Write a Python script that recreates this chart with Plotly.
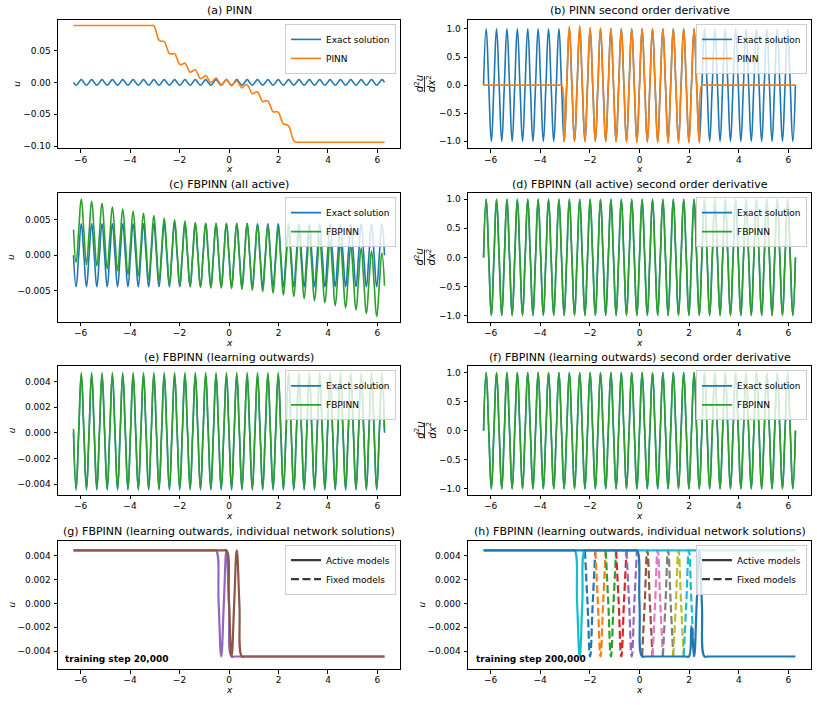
import numpy as np
import plotly.graph_objects as go

# ---------------- data ----------------
X_MIN, X_MAX = -6.2832, 6.2832          # domain [-2pi, 2pi]
N_POINTS = 121                           # quarter-period sampling (30 periods)
x_grid = np.linspace(X_MIN, X_MAX, N_POINTS)

A = 0.00444                              # amplitude of the exact solution u

exact_u = [0.0, -A, 0.0, A] * 30 + [0.0]
exact_d2u = [0.0, 1.0, 0.0, -1.0] * 30 + [0.0]

pinn_u = [0.0895] * 32 + [
    0.078, 0.0666, 0.065, 0.0644, 0.055, 0.0456, 0.045, 0.0454, 0.037, 0.0284,
    0.0286, 0.0304, 0.0233, 0.0163, 0.018, 0.0199, 0.013, 0.006, 0.0078, 0.011,
    0.0054, -0.0002, 0.003, 0.0068, 0.0018, -0.0033, 0.0005, 0.0045, -0.0003, -0.005,
    -0.001, 0.0024, -0.003, -0.0084, -0.005, -0.0034, -0.0105, -0.0177, -0.016, -0.0149,
    -0.0225, -0.0302, -0.029, -0.0289, -0.0375, -0.0462, -0.046, -0.0466, -0.056, -0.0654,
    -0.066, -0.0686, -0.080, -0.0915] + [-0.094] * 35

pinn_d2u = [0.0] * 31 + [
    -1.0, 0.0, 1.05, 0.0, -1.0, 0.0, 1.06, 0.0, -1.0, 0.0, 1.03, 0.0,
    -1.0, 0.0, 1.02, 0.0, -1.01, 0.0, 1.01, 0.0, -1.01, 0.0, 1.0, 0.0,
    -1.02, 0.0, 1.0, 0.0, -1.03, 0.0, 1.0, 0.0, -1.02, 0.0, 1.0, 0.0,
    -1.03, 0.0, 1.0, 0.0, -1.04, 0.0, 1.0, 0.0, -1.03, 0.0, 1.0, 0.0,
    -1.03, 0.0, 1.0, 0.0, -1.03] + [0.0] * 37

fbpinn_all_u = [
    0.0036,
    -0.0010, 0.0035, 0.0079, 0.0033,
    -0.0013, 0.0032, 0.0076, 0.0030,
    -0.0015, 0.0029, 0.0073, 0.0027,
    -0.0019, 0.0025, 0.0068, 0.0023,
    -0.0022, 0.0022, 0.0065, 0.0019,
    -0.0027, 0.0018, 0.0062, 0.0017,
    -0.0029, 0.0015, 0.0059, 0.0013,
    -0.0034, 0.0011, 0.0056, 0.0010,
    -0.0036, 0.0008, 0.0052, 0.0006,
    -0.0040, 0.0005, 0.0050, 0.0004,
    -0.0042, 0.0003, 0.0048, 0.0002,
    -0.0044, 0.0001, 0.0046, 0.0000,
    -0.0045, 0.0000, 0.0045, -0.0001,
    -0.0046, -0.0001, 0.0045, -0.0001,
    -0.0046, -0.0001, 0.0045, -0.0001,
    -0.0047, -0.0001, 0.0045, -0.0002,
    -0.0048, -0.0002, 0.0045, -0.0002,
    -0.0049, -0.0003, 0.0043, -0.0004,
    -0.0051, -0.0005, 0.0041, -0.0006,
    -0.0053, -0.0008, 0.0038, -0.0009,
    -0.0056, -0.0011, 0.0035, -0.0012,
    -0.0058, -0.0013, 0.0032, -0.0015,
    -0.0061, -0.0017, 0.0028, -0.0018,
    -0.0064, -0.0020, 0.0024, -0.0022,
    -0.0067, -0.0024, 0.0020, -0.0026,
    -0.0071, -0.0027, 0.0017, -0.0029,
    -0.0074, -0.0031, 0.0013, -0.0032,
    -0.0077, -0.0034, 0.0010, -0.0036,
    -0.0082, -0.0038, 0.0006, -0.0040,
    -0.0086, -0.0042, 0.0003, -0.0043]
fbpinn_all_d2u = [0.0, 1.0, 0.0, -1.0] * 30 + [0.0]

fbpinn_out_u = [0.0003] + [-0.0043, 0.0001, 0.0047, 0.0001] * 29 + [-0.0043, 0.0001, 0.0047, 0.0003]
fbpinn_out_d2u = [0.0, 1.0, 0.0, -1.0] * 30 + [0.0]

# (g) training step 20,000 : active models
g_purple_active = [A] * 56 + [0.0, -A, 0.0, A, 0.0, -A] + [-A] * 59
g_brown_active = [A] * 60 + [0.0, -A, 0.0, A, 0.0, -A] + [-A] * 55

# (h) training step 200,000
V = [A, 0.0, -A, 0.0, A]
LAM = [-A, 0.0, A, 0.0, -A]
h_blue_fixed = [None] * 39 + V + [None] * 77
h_orange_fixed = [None] * 43 + V + [None] * 73
h_green_fixed = [None] * 47 + V + [None] * 69
h_red_fixed = [None] * 51 + V + [None] * 65
h_purple_fixed = [None] * 55 + V + [None] * 61
h_brown_fixed = [None] * 61 + LAM + [None] * 55
h_pink_fixed = [None] * 65 + LAM + [None] * 51
h_gray_fixed = [None] * 69 + LAM + [None] * 47
h_olive_fixed = [None] * 73 + LAM + [None] * 43
h_cyan_fixed = [None] * 77 + LAM + [None] * 39
h_cyan_active = [A] * 36 + [0.0, -A, 0.0] + [A] * 82
h_blue_active = [A] * 60 + [0.0] + [-A] * 19 + [-0.0019, -A, 0.0, A, 0.0] + [-A] * 36

titles = ["(a) PINN", "(b) PINN second order derivative",
          "(c) FBPINN (all active)", "(d) FBPINN (all active) second order derivative",
          "(e) FBPINN (learning outwards)", "(f) FBPINN (learning outwards) second order derivative",
          "(g) FBPINN (learning outwards, individual network solutions)",
          "(h) FBPINN (learning outwards, individual network solutions)"]
x_ticks = [-6, -4, -2, 0, 2, 4, 6]

# ---------------- styling / layout ----------------
BLUE, ORANGE, GREEN, RED = "#1f77b4", "#ff7f0e", "#2ca02c", "#d62728"
PURPLE, BROWN, PINK, GRAY = "#9467bd", "#8c564b", "#e377c2", "#7f7f7f"
OLIVE, CYAN = "#bcbd22", "#17becf"
FONT = "DejaVu Sans"
FS = 9           # tick / legend / label font size
FS_TITLE = 11
W, H = 817, 705
col_px = [(58, 400), (468, 811)]
row_px = [(20, 149), (194, 323), (368, 497), (543, 672)]
LW = 1.6
LW2 = 2.2
DASH = "8px,3.5px"

fig = go.Figure()


def names(p):
    s = "" if p == 1 else str(p)
    return "x" + s, "y" + s, "legend" + s


def add_line(p, y, name, color, width=LW, dash="solid", showlegend=True):
    xa, ya, lg = names(p)
    fig.add_trace(go.Scatter(
        x=x_grid, y=y, mode="lines", name=name,
        line=dict(color=color, width=width, dash=dash, shape="spline", smoothing=1.3),
        xaxis=xa, yaxis=ya, legend=lg, showlegend=showlegend, hoverinfo="skip"))


def add_proxy(p, name, dash):
    xa, ya, lg = names(p)
    fig.add_trace(go.Scatter(
        x=[None], y=[None], mode="lines", name=name,
        line=dict(color="#3a3a3a", width=LW2, dash=dash),
        xaxis=xa, yaxis=ya, legend=lg, showlegend=True, hoverinfo="skip"))


add_line(1, exact_u, "Exact solution", BLUE)
add_line(1, pinn_u, "PINN", ORANGE)
add_line(2, exact_d2u, "Exact solution", BLUE)
add_line(2, pinn_d2u, "PINN", ORANGE)
add_line(3, exact_u, "Exact solution", BLUE)
add_line(3, fbpinn_all_u, "FBPINN", GREEN)
add_line(4, exact_d2u, "Exact solution", BLUE)
add_line(4, fbpinn_all_d2u, "FBPINN", GREEN)
add_line(5, exact_u, "Exact solution", BLUE)
add_line(5, fbpinn_out_u, "FBPINN", GREEN)
add_line(6, exact_d2u, "Exact solution", BLUE)
add_line(6, fbpinn_out_d2u, "FBPINN", GREEN)

add_line(7, g_purple_active, "purple", PURPLE, LW2, showlegend=False)
add_line(7, g_brown_active, "brown", BROWN, LW2, showlegend=False)
add_proxy(7, "Active models", "solid")
add_proxy(7, "Fixed models", DASH)

for yv, col in [(h_blue_fixed, BLUE), (h_orange_fixed, ORANGE), (h_green_fixed, GREEN),
                (h_red_fixed, RED), (h_purple_fixed, PURPLE), (h_brown_fixed, BROWN),
                (h_pink_fixed, PINK), (h_gray_fixed, GRAY), (h_olive_fixed, OLIVE),
                (h_cyan_fixed, CYAN)]:
    add_line(8, yv, "fixed", col, LW2, dash=DASH, showlegend=False)
add_line(8, h_cyan_active, "active", CYAN, LW2, showlegend=False)
add_line(8, h_blue_active, "active", BLUE, LW2, showlegend=False)
add_proxy(8, "Active models", "solid")
add_proxy(8, "Fixed models", DASH)

y_specs = {
    1: dict(range=[-0.1036, 0.0984], dtick=0.05, tickformat=".2f"),
    2: dict(range=[-1.125, 1.16], dtick=0.5, tickformat=".1f"),
    3: dict(range=[-0.00934, 0.00874], dtick=0.005, tickformat=".3f"),
    4: dict(range=[-1.105, 1.105], dtick=0.5, tickformat=".1f"),
    5: dict(range=[-0.00483, 0.00517], dtick=0.002, tickformat=".3f"),
    6: dict(range=[-1.105, 1.105], dtick=0.5, tickformat=".1f"),
    7: dict(range=[-0.0055, 0.00525], dtick=0.002, tickformat=".3f"),
    8: dict(range=[-0.0055, 0.00525], dtick=0.002, tickformat=".3f"),
}

axis_common = dict(showline=True, mirror=True, linecolor="black", linewidth=0.8,
                   ticks="outside", ticklen=3.5, tickwidth=0.8, tickcolor="black",
                   showgrid=False, zeroline=False,
                   tickfont=dict(family=FONT, size=FS, color="black"))

layout = dict(width=W, height=H, margin=dict(l=0, r=0, t=0, b=0),
              paper_bgcolor="white", plot_bgcolor="white",
              font=dict(family=FONT, size=FS, color="black"))
annotations = []
shapes = []
for p in range(1, 9):
    r, c = (p - 1) // 2, (p - 1) % 2
    x0, x1 = col_px[c]
    top, bot = row_px[r]
    s = "" if p == 1 else str(p)
    layout["xaxis" + s] = dict(domain=[x0 / W, x1 / W], range=[-6.91, 6.91],
                               anchor="y" + s, tickmode="array", tickvals=x_ticks,
                               ticklabelstandoff=-1, **axis_common)
    layout["yaxis" + s] = dict(domain=[1 - bot / H, 1 - top / H], anchor="x" + s,
                               tick0=0, ticklabelstandoff=1, **y_specs[p], **axis_common)
    layout["legend" + s] = dict(x=(x1 - 4) / W, y=1 - (top + 4) / H,
                                xanchor="right", yanchor="top",
                                bgcolor="rgba(255,255,255,0.8)", bordercolor="#cccccc",
                                borderwidth=1, tracegroupgap=0,
                                font=dict(family=FONT, size=FS, color="black"))
    # title
    annotations.append(dict(text=titles[p - 1], xref="paper", yref="paper",
                            x=(x0 + x1) / 2 / W, y=1 - (top - 9) / H,
                            xanchor="center", yanchor="middle", showarrow=False,
                            font=dict(family=FONT, size=FS_TITLE, color="black")))
    # x label
    annotations.append(dict(text="<i>x</i>", xref="paper", yref="paper",
                            x=(x0 + x1) / 2 / W, y=1 - (bot + 21) / H,
                            xanchor="center", yanchor="middle", showarrow=False,
                            font=dict(family=FONT, size=FS, color="black")))
    ymid = 1 - (top + bot) / 2 / H
    if p in (2, 4, 6):
        annotations.append(dict(text="<i>d</i><sup>2</sup><i>u</i>", xref="paper", yref="paper",
                                x=419 / W, y=ymid, xanchor="center", yanchor="middle",
                                textangle=-90, showarrow=False,
                                font=dict(family=FONT, size=10, color="black")))
        annotations.append(dict(text="<i>dx</i><sup>2</sup>", xref="paper", yref="paper",
                                x=431 / W, y=ymid, xanchor="center", yanchor="middle",
                                textangle=-90, showarrow=False,
                                font=dict(family=FONT, size=10, color="black")))
        shapes.append(dict(type="line", xref="paper", yref="paper",
                           x0=424.5 / W, x1=424.5 / W, y0=ymid - 8 / H, y1=ymid + 8 / H,
                           line=dict(color="black", width=0.8)))
    else:
        ux = (16.7 if p == 1 else 11.7) if c == 0 else 421.7
        annotations.append(dict(text="<i>u</i>", xref="paper", yref="paper",
                                x=ux / W, y=ymid, xanchor="center", yanchor="middle",
                                textangle=-90, showarrow=False,
                                font=dict(family=FONT, size=FS, color="black")))

annotations.append(dict(text="<b>training step 20,000</b>", xref="paper", yref="paper",
                        x=63 / W, y=1 - 661.7 / H, xanchor="left", yanchor="middle",
                        showarrow=False, font=dict(family=FONT, size=FS, color="black")))
annotations.append(dict(text="<b>training step 200,000</b>", xref="paper", yref="paper",
                        x=474 / W, y=1 - 661.7 / H, xanchor="left", yanchor="middle",
                        showarrow=False, font=dict(family=FONT, size=FS, color="black")))

layout["annotations"] = annotations
layout["shapes"] = shapes
fig.update_layout(**layout)
fig.write_html("out.html", config={"displayModeBar": False},
               post_script="document.body.style.margin='0';document.body.style.padding='0';")
